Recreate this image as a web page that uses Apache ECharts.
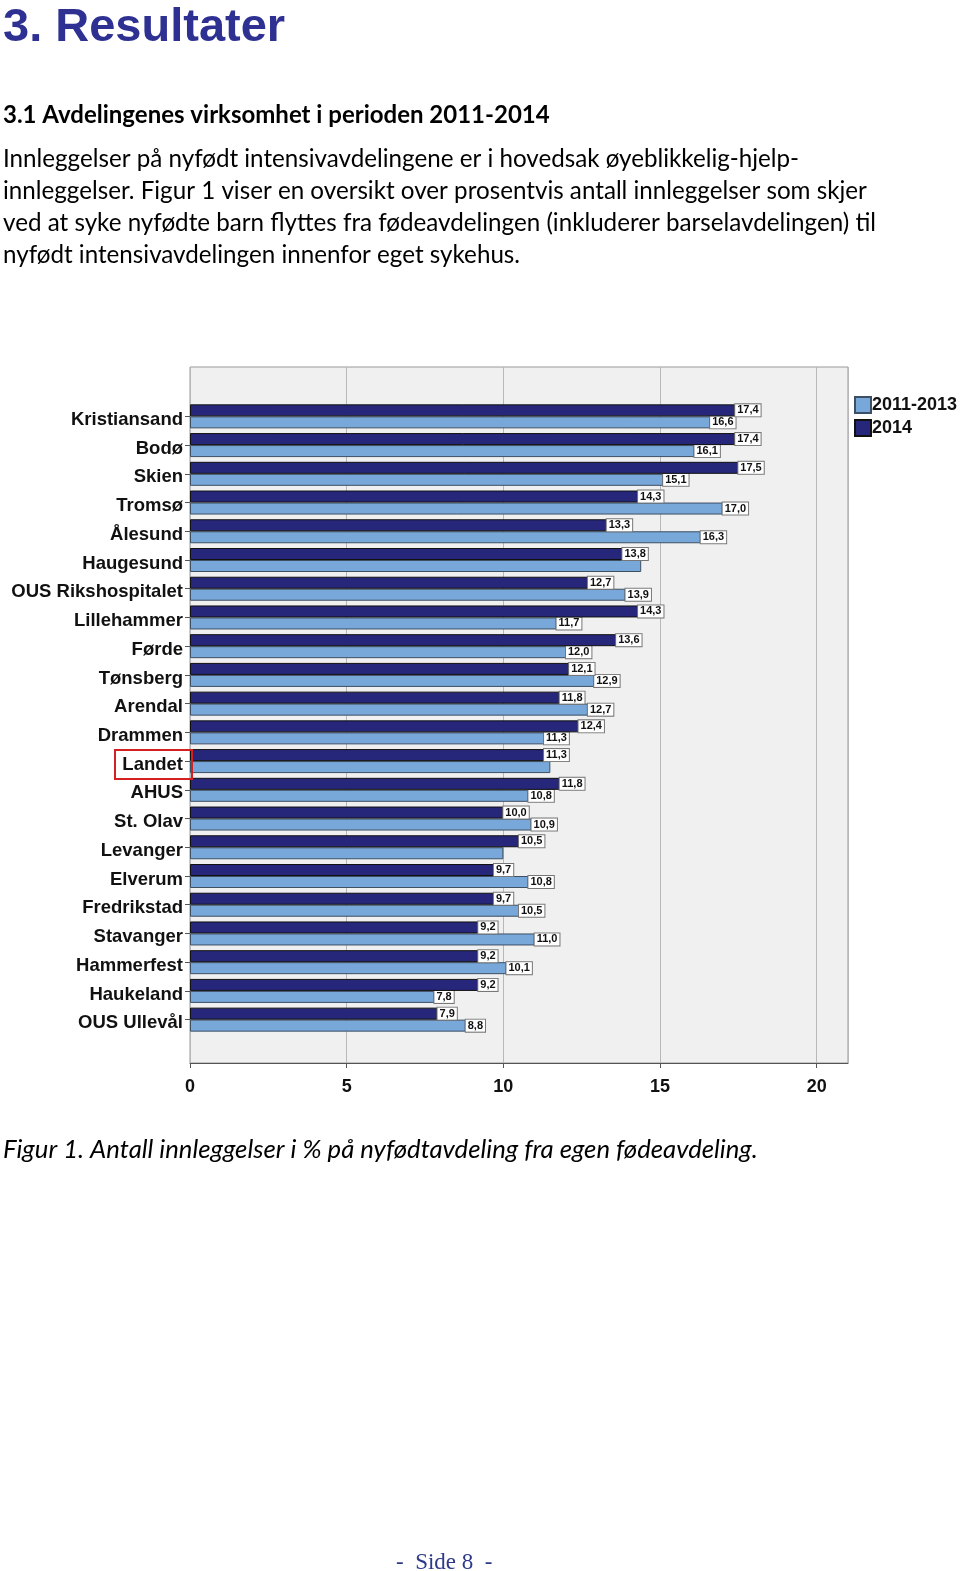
<!DOCTYPE html>
<html>
<head>
<meta charset="utf-8">
<script src="https://cdn.jsdelivr.net/npm/echarts@6/dist/echarts.min.js"></script>
<style>
html,body{margin:0;padding:0;background:#fff;}
#c{width:960px;height:1571px;}
</style>
</head>
<body>
<div id="c"></div>
<script>
const categories = ['Kristiansand','Bodø','Skien','Tromsø','Ålesund','Haugesund','OUS Rikshospitalet','Lillehammer','Førde','Tønsberg','Arendal','Drammen','Landet','AHUS','St. Olav','Levanger','Elverum','Fredrikstad','Stavanger','Hammerfest','Haukeland','OUS Ullevål'];
const values2014 = [17.4,17.4,17.5,14.3,13.3,13.8,12.7,14.3,13.6,12.1,11.8,12.4,11.3,11.8,10.0,10.5,9.7,9.7,9.2,9.2,9.2,7.9];
const values2011_2013 = [16.6,16.1,15.1,17.0,16.3,14.4,13.9,11.7,12.0,12.9,12.7,11.3,11.5,10.8,10.9,10.0,10.8,10.5,11.0,10.1,7.8,8.8];
// light bars without a printed label in the reference
const unlabeled2011_2013 = ['Haugesund','Landet','Levanger'];
const xTicks = [0,5,10,15,20];
const seriesNames = ['2011-2013','2014'];
const highlighted = 'Landet';

const bodyFont = 'Lato, "Open Sans", sans-serif';
const axisFont = '"Liberation Sans", Arial, sans-serif';
const chart = echarts.init(document.getElementById('c'), null, {renderer:'canvas'});

function lbl(p){ return p.value.toFixed(1).replace('.', ','); }
const labelStyle = {
  show:true, position:'right', distance:0,
  formatter: lbl,
  fontFamily:axisFont, fontWeight:'bold', fontSize:11, color:'#111',
  backgroundColor:'#fff', borderColor:'#777', borderWidth:1, padding:[1,2,0,2]
};

const texts = [
  {type:'text', left:3, top:5, style:{text:'3. Resultater', font:'bold 47px ' + axisFont, fill:'#2e3192'}},
  {type:'text', left:3, top:103, style:{text:'3.1 Avdelingenes virksomhet i perioden 2011-2014', font:'bold 24px ' + bodyFont, fill:'#000'}},
  {type:'text', left:3, top:143, style:{text:'Innleggelser på nyfødt intensivavdelingene er i hovedsak øyeblikkelig-hjelp-\ninnleggelser. Figur 1 viser en oversikt over prosentvis antall innleggelser som skjer\nved at syke nyfødte barn flyttes fra fødeavdelingen (inkluderer barselavdelingen) til\nnyfødt intensivavdelingen innenfor eget sykehus.', font:'24.2px ' + bodyFont, fill:'#000', lineHeight:32}},
  {type:'text', left:3, top:1137, style:{text:'Figur 1. Antall innleggelser i % på nyfødtavdeling fra egen fødeavdeling.', font:'italic 25.7px ' + bodyFont, fill:'#000'}},
  {type:'text', left:396, top:1551, style:{text:'-  Side 8  -', font:'23px "Liberation Serif", "DejaVu Serif", serif', fill:'#2e3a87'}}
];

chart.setOption({
  animation:false,
  backgroundColor:'#fff',
  graphic:texts,
  legend:{
    data:seriesNames, orient:'vertical', left:849, top:391,
    itemWidth:16, itemHeight:16, itemGap:5, icon:'rect',
    textStyle:{fontFamily:axisFont, fontWeight:'bold', fontSize:18, color:'#111', padding:[0,0,0,-4]}
  },
  grid:[
    {left:190, top:367, width:658, height:696, show:true, backgroundColor:'#f0f0f0', borderColor:'#999', borderWidth:1},
    {left:190, top:402, width:658, height:632}
  ],
  xAxis:[
    {gridIndex:0, type:'value', min:0, max:21, interval:5,
     axisLine:{show:true, lineStyle:{color:'#555'}},
     axisTick:{show:true, length:5, lineStyle:{color:'#555'}},
     axisLabel:{showMaxLabel:false, fontFamily:axisFont, fontWeight:'bold', fontSize:18, color:'#111', margin:15},
     splitLine:{show:true, lineStyle:{color:'#b8b8b8', width:1}}},
    {gridIndex:1, type:'value', min:0, max:21, show:false, splitLine:{show:false}}
  ],
  yAxis:[
    {gridIndex:0, type:'value', show:false, splitLine:{show:false}},
    {gridIndex:1, type:'category', data:categories, inverse:true,
     axisLine:{show:false},
     axisTick:{show:true, length:5, alignWithLabel:true, lineStyle:{color:'#555'}},
     axisLabel:{margin:7, formatter:function(v){ return '{a|' + v + '}'; },
       rich:{a:{fontFamily:axisFont, fontWeight:'bold', fontSize:18.5, color:'#111', padding:[7,0,0,0]}}}
    }
  ],
  series:[
    {name:'2014', type:'bar', xAxisIndex:1, yAxisIndex:1, data:values2014, barWidth:12, barGap:'0%',
     itemStyle:{color:'#26277a', borderColor:'#111', borderWidth:1},
     label:labelStyle, z:3},
    {name:'2011-2013', type:'bar', xAxisIndex:1, yAxisIndex:1,
     data:values2011_2013.map((v,i)=> unlabeled2011_2013.includes(categories[i]) ? {value:v, label:{show:false}} : v),
     barWidth:12, barGap:'0%',
     itemStyle:{color:'#77a8d9', borderColor:'#3d4f63', borderWidth:1},
     label:labelStyle, z:2}
  ]
});

// red frame around the highlighted category label, placed from the axis scale
const cy = chart.convertToPixel({yAxisIndex:1}, highlighted);
const gx = chart.convertToPixel({xAxisIndex:1}, 0);
chart.setOption({graphic: texts.concat([
  {type:'rect', shape:{x:115, y:cy-11, width:gx-113, height:29}, style:{fill:'none', stroke:'#d42020', lineWidth:2}, z:10}
])});
</script>
</body>
</html>
